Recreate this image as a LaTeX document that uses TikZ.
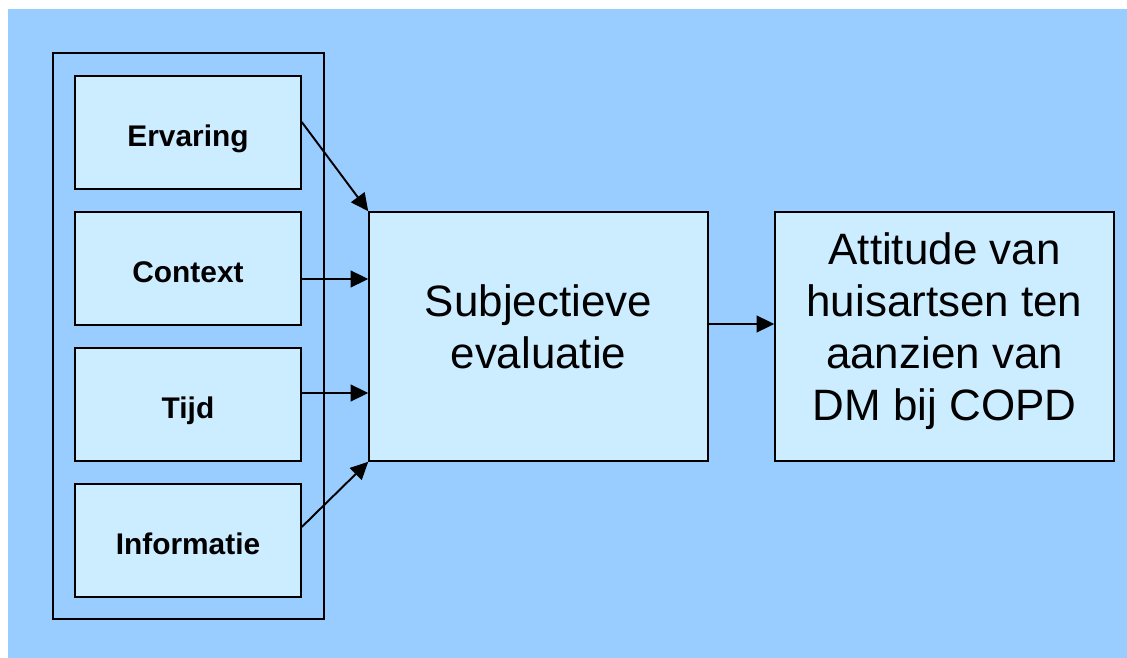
\documentclass[tikz,border=0pt]{standalone}
\usepackage{fontspec}
\setmainfont{Liberation Sans}
\usetikzlibrary{arrows.meta}
\definecolor{skyback}{HTML}{99CCFF}
\definecolor{paleblue}{HTML}{CCECFF}
\tikzset{
  factor/.style={draw, line width=0.9pt, fill=paleblue, minimum width=4.52cm, minimum height=2.26cm,
    text height=20pt, text depth=3.5pt, font=\fontsize{17}{20}\selectfont\bfseries},
  bigbox/.style={draw, line width=0.9pt, fill=paleblue, minimum width=6.78cm, minimum height=4.98cm,
    align=center, text depth=11.5pt, font=\fontsize{25}{29.5}\selectfont},
  arr/.style={-{Triangle[length=10pt,width=9.5pt]}, line width=1.1pt}
}
\begin{document}
\begin{tikzpicture}[x=0.02cm, y=-0.02cm]  % factoren naar attitude
	\useasboundingbox (0,0) rectangle (1127,658);
	\fill[skyback] (8,9) rectangle (1127,658);
	\node[draw, line width=1pt, minimum width=5.42cm, minimum height=11.32cm] (frame) at (188.5,336) {};
	\node[factor] (erv) at (188,132.5) {Ervaring};
	\node[factor] (ctx) at (188,268.5) {Context};
	\node[factor] (tijd) at (188,404.5) {Tijd};
	\node[factor] (info) at (188,540.5) {Informatie};
	\node[bigbox] (subj) at (538.5,336.5) {Subjectieve\\evaluatie};
	\node[bigbox] (att) at (944.5,336.5) {Attitude van\\huisartsen ten\\aanzien van\\DM bij COPD};
	\draw[arr] ([yshift=0.21cm]erv.east) -- (subj.north west);
	\draw[arr] ([yshift=-0.21cm]ctx.east) -- ([yshift=-0.21cm]ctx.east -| subj.west);
	\draw[arr] ([yshift=0.23cm]tijd.east) -- ([yshift=0.23cm]tijd.east -| subj.west);
	\draw[arr] ([yshift=0.27cm]info.east) -- (subj.south west);
	\draw[arr] ([yshift=0.25cm]subj.east) -- ([yshift=0.25cm]subj.east -| att.west);
\end{tikzpicture}
\end{document}
